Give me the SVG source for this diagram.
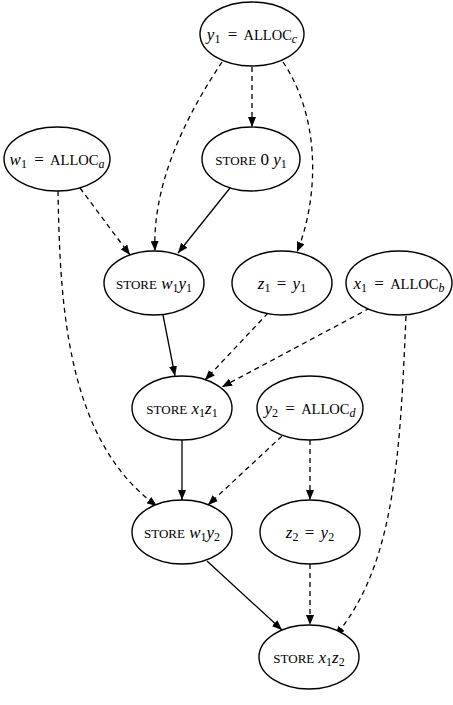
<svg xmlns="http://www.w3.org/2000/svg" width="453" height="705" viewBox="0 0 453 705">
<style>
.n ellipse{fill:#fff;stroke:#000;stroke-width:1.4}
.n text{font-family:"Liberation Serif","Times New Roman",serif;font-size:17px;fill:#000;text-anchor:middle}
.i{font-style:italic}
.sc{font-size:14.5px}
.st{font-size:13px}
.sub{font-size:12px}
.e path{fill:none;stroke:#000;stroke-width:1.3;marker-end:url(#ah)}
.e .d{stroke-dasharray:5,4}
</style>
<defs>
<marker id="ah" markerUnits="userSpaceOnUse" markerWidth="10" markerHeight="8" refX="10" refY="4" orient="auto">
<path d="M0,0 L10,4 L0,8 z" fill="#000" stroke="none"/>
</marker>
</defs>
<rect width="453" height="705" fill="#fff"/>
<g class="e" id="edges">
<path class="d" d="M252,67 L252,127"/>
<path class="d" d="M222,62 C190,110 152,180 155,251"/>
<path class="d" d="M283,62 C322,120 318,200 297,252"/>
<path d="M230,188 L178,253"/>
<path class="d" d="M80,188 L130,255"/>
<path class="d" d="M58,191 C60,300 65,440 157,506"/>
<path d="M163,315 L175,376"/>
<path class="d" d="M268,313 L205,380"/>
<path class="d" d="M370,308 L222,387"/>
<path class="d" d="M406,316 C400,450 396,565 335,636"/>
<path d="M182,440 L182,500"/>
<path class="d" d="M282,436 L208,505"/>
<path class="d" d="M310,440 L310,500"/>
<path d="M207,561 L282,630"/>
<path class="d" d="M310,564 L310,625"/>
</g>
<g class="n" id="y1alloc"><ellipse cx="252" cy="34" rx="52" ry="32"/>
<text x="252" y="40"><tspan class="i">y</tspan><tspan class="sub" dy="3">1</tspan><tspan dy="-3" dx="3"> = </tspan><tspan class="sc" dx="2">ALLOC</tspan><tspan class="i sub" dy="3">c</tspan></text></g>
<g class="n" id="w1alloc"><ellipse cx="57" cy="159" rx="53" ry="32"/>
<text x="57" y="165"><tspan class="i">w</tspan><tspan class="sub" dy="3">1</tspan><tspan dy="-3" dx="3"> = </tspan><tspan class="sc" dx="2">ALLOC</tspan><tspan class="i sub" dy="3">a</tspan></text></g>
<g class="n" id="store0y1"><ellipse cx="251" cy="159" rx="49" ry="32"/>
<text x="251" y="165"><tspan class="st">STORE</tspan><tspan> 0 </tspan><tspan class="i">y</tspan><tspan class="sub" dy="3">1</tspan></text></g>
<g class="n" id="storew1y1"><ellipse cx="154" cy="283" rx="50" ry="32"/>
<text x="154" y="289"><tspan class="st">STORE</tspan><tspan> </tspan><tspan class="i">w</tspan><tspan class="sub" dy="3">1</tspan><tspan class="i" dy="-3">y</tspan><tspan class="sub" dy="3">1</tspan></text></g>
<g class="n" id="z1y1"><ellipse cx="282" cy="283" rx="50" ry="32"/>
<text x="282" y="289"><tspan class="i">z</tspan><tspan class="sub" dy="3">1</tspan><tspan dy="-3" dx="2"> = </tspan><tspan class="i" dx="2">y</tspan><tspan class="sub" dy="3">1</tspan></text></g>
<g class="n" id="x1alloc"><ellipse cx="399" cy="283" rx="53" ry="32"/>
<text x="399" y="289"><tspan class="i">x</tspan><tspan class="sub" dy="3">1</tspan><tspan dy="-3" dx="3"> = </tspan><tspan class="sc" dx="2">ALLOC</tspan><tspan class="i sub" dy="3">b</tspan></text></g>
<g class="n" id="storex1z1"><ellipse cx="182" cy="408" rx="50" ry="32"/>
<text x="182" y="414"><tspan class="st">STORE</tspan><tspan> </tspan><tspan class="i">x</tspan><tspan class="sub" dy="3">1</tspan><tspan class="i" dy="-3">z</tspan><tspan class="sub" dy="3">1</tspan></text></g>
<g class="n" id="y2alloc"><ellipse cx="310" cy="408" rx="53" ry="32"/>
<text x="310" y="414"><tspan class="i">y</tspan><tspan class="sub" dy="3">2</tspan><tspan dy="-3" dx="3"> = </tspan><tspan class="sc" dx="2">ALLOC</tspan><tspan class="i sub" dy="3">d</tspan></text></g>
<g class="n" id="storew1y2"><ellipse cx="182" cy="532" rx="50" ry="32"/>
<text x="182" y="538"><tspan class="st">STORE</tspan><tspan> </tspan><tspan class="i">w</tspan><tspan class="sub" dy="3">1</tspan><tspan class="i" dy="-3">y</tspan><tspan class="sub" dy="3">2</tspan></text></g>
<g class="n" id="z2y2"><ellipse cx="310" cy="532" rx="50" ry="32"/>
<text x="310" y="538"><tspan class="i">z</tspan><tspan class="sub" dy="3">2</tspan><tspan dy="-3" dx="2"> = </tspan><tspan class="i" dx="2">y</tspan><tspan class="sub" dy="3">2</tspan></text></g>
<g class="n" id="storex1z2"><ellipse cx="309" cy="657" rx="50" ry="32"/>
<text x="309" y="663"><tspan class="st">STORE</tspan><tspan> </tspan><tspan class="i">x</tspan><tspan class="sub" dy="3">1</tspan><tspan class="i" dy="-3">z</tspan><tspan class="sub" dy="3">2</tspan></text></g>
</svg>
